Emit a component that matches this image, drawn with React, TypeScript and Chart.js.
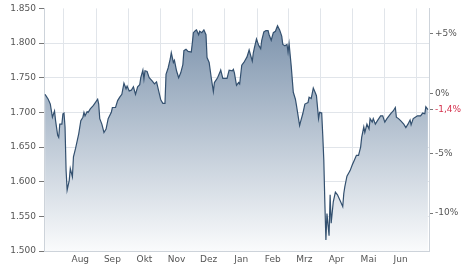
import { useEffect, useRef } from 'react';
import { Chart, registerables } from 'chart.js';

Chart.register(...registerables);

// Day offsets counted from 13 Jul 2019
const dayOffsets = [
  1, 4, 6, 8, 10, 11, 13, 14, 15, 17,
  18, 19, 20, 21, 22, 24, 25, 27, 28, 30,
  33, 35, 37, 38, 39, 41, 42, 44, 47, 51,
  52, 53, 55, 57, 59, 61, 64, 65, 68, 70,
  72, 74, 76, 78, 79, 81, 83, 85, 87, 89,
  91, 92, 94, 95, 96, 98, 100, 103, 105, 107,
  109, 111, 113, 115, 116, 118, 120, 121, 123, 124,
  126, 128, 130, 132, 133, 135, 137, 140, 141, 142,
  144, 145, 147, 148, 150, 152, 154, 155, 157, 159,
  161, 162, 165, 167, 168, 170, 171, 174, 176, 179,
  180, 181, 183, 185, 186, 188, 190, 193, 195, 198,
  199, 200, 202, 204, 206, 207, 209, 211, 213, 214,
  216, 218, 220, 222, 224, 226, 227, 229, 231, 232,
  233, 235, 237, 239, 240, 243, 244, 246, 248, 251,
  252, 254, 256, 258, 259, 261, 262, 264, 265, 266,
  267, 268, 269, 271, 272, 273, 275, 277, 279, 282,
  284, 285, 286, 288, 291, 293, 295, 297, 299, 301,
  302, 304, 305, 307, 309, 310, 312, 313, 315, 317,
  320, 322, 324, 326, 328, 330, 332, 334, 335, 337,
  339, 342, 344, 346, 348, 349, 351, 353, 355, 358,
  360, 362, 363, 365,
];

const prices = [
  1726, 1719, 1712, 1693, 1702, 1688, 1667, 1664, 1683, 1683,
  1698, 1699, 1679, 1616, 1588, 1602, 1619, 1607, 1636, 1648,
  1669, 1688, 1693, 1700, 1695, 1701, 1700, 1705, 1710, 1719,
  1712, 1691, 1683, 1671, 1676, 1691, 1700, 1707, 1707, 1717,
  1722, 1726, 1742, 1734, 1738, 1731, 1732, 1737, 1726, 1737,
  1740, 1750, 1761, 1748, 1760, 1759, 1750, 1745, 1741, 1744,
  1731, 1718, 1713, 1713, 1755, 1764, 1777, 1786, 1772, 1775,
  1760, 1750, 1757, 1769, 1789, 1791, 1788, 1787, 1800, 1815,
  1818, 1819, 1812, 1817, 1815, 1819, 1812, 1779, 1772, 1750,
  1730, 1743, 1750, 1757, 1761, 1749, 1749, 1749, 1761, 1760,
  1762, 1757, 1739, 1743, 1741, 1768, 1772, 1780, 1790, 1774,
  1786, 1793, 1806, 1797, 1792, 1804, 1816, 1818, 1818, 1812,
  1804, 1815, 1817, 1825, 1819, 1810, 1798, 1796, 1798, 1787,
  1799, 1767, 1729, 1719, 1710, 1681, 1687, 1698, 1712, 1714,
  1722, 1720, 1735, 1728, 1724, 1691, 1700, 1699, 1667, 1631,
  1569, 1516, 1554, 1522, 1581, 1540, 1571, 1585, 1581, 1571,
  1564, 1583, 1593, 1608, 1616, 1624, 1631, 1638, 1638, 1650,
  1664, 1679, 1671, 1683, 1676, 1691, 1686, 1691, 1683, 1688,
  1695, 1695, 1686, 1691, 1695, 1699, 1702, 1707, 1693, 1691,
  1688, 1683, 1678, 1683, 1689, 1682, 1691, 1693, 1695, 1695,
  1699, 1698, 1708, 1704,
];

// Month starts (day offsets) for Aug 2019 .. Jul 2020
const monthStarts = [19, 50, 80, 111, 141, 172, 203, 232, 263, 293, 324, 354];
const monthLabels = ['Aug', 'Sep', 'Okt', 'Nov', 'Dez', 'Jan', 'Feb', 'Mrz', 'Apr', 'Mai', 'Jun'];

const priceTicks = [1500, 1550, 1600, 1650, 1700, 1750, 1800, 1850];
const pctTicks = [-10, -5, 0, 5];
const basePrice = 1727.5;

const X_MIN = 0;
const X_MAX = 366;
const Y_MIN = 1500;
const Y_MAX = 1850;

const fmtPrice = (v: number) => String(Math.round(v)).replace(/\B(?=(\d{3})+(?!\d))/g, '.');
const lastPct = (prices[prices.length - 1] / basePrice - 1) * 100;
const fmtPct = (v: number) => {
  if (Math.abs(v) < 1e-9) return '0%';
  const s = Number.isInteger(v) ? String(Math.abs(v)) : Math.abs(v).toFixed(1).replace('.', ',');
  return (v > 0 ? '+' : '-') + s + '%';
};

const labelFont = { family: 'DejaVu Sans', size: 9 };
const gridColor = '#e1e5ea';
const borderColor = '#cdd3da';
const tickMarkColor = '#777';

export default function App() {
  const ref = useRef<HTMLCanvasElement>(null);

  useEffect(() => {
    if (!ref.current) return;
    const monthMids = monthLabels.map((_, i) => (monthStarts[i] + monthStarts[i + 1]) / 2);
    const rightTicks = [...pctTicks, lastPct].sort((a, b) => a - b);

    const chart = new Chart(ref.current, {
      type: 'line',
      data: {
        datasets: [
          {
            data: dayOffsets.map((d, i) => ({ x: d, y: prices[i] })),
            borderColor: '#33506f',
            borderWidth: 1.2,
            pointRadius: 0,
            tension: 0,
            fill: 'start',
            backgroundColor: (ctx: any) => {
              const a = ctx.chart.chartArea;
              if (!a) return 'rgba(140,160,182,0.6)';
              const g = ctx.chart.ctx.createLinearGradient(0, a.top, 0, a.bottom);
              g.addColorStop(0, 'rgb(116,140,167)');
              g.addColorStop(1, 'rgb(250,251,252)');
              return g;
            },
            xAxisID: 'x',
            yAxisID: 'y',
          },
        ],
      },
      options: {
        responsive: false,
        animation: false,
        layout: { padding: { top: 7, left: 0, right: 0, bottom: 0 } },
        plugins: { legend: { display: false }, tooltip: { enabled: false } },
        scales: {
          x: {
            type: 'linear',
            position: 'bottom',
            min: X_MIN,
            max: X_MAX,
            afterBuildTicks: (s: any) => {
              s.ticks = monthStarts.map((v) => ({ value: v }));
            },
            ticks: { display: false },
            grid: { color: gridColor, drawTicks: false },
            border: { color: borderColor },
            afterFit: (s: any) => {
              s.height = 0;
            },
          },
          xl: {
            type: 'linear',
            position: 'bottom',
            min: X_MIN,
            max: X_MAX,
            afterBuildTicks: (s: any) => {
              s.ticks = monthMids.map((v) => ({ value: v }));
            },
            ticks: {
              callback: (_v: any, i: number) => monthLabels[i],
              color: '#555',
              font: labelFont,
              padding: 3,
              autoSkip: false,
              maxRotation: 0,
            },
            grid: { display: false, drawTicks: false },
            border: { display: false },
            afterFit: (s: any) => {
              s.height = 18;
            },
          },
          y: {
            type: 'linear',
            position: 'left',
            min: Y_MIN,
            max: Y_MAX,
            afterBuildTicks: (s: any) => {
              s.ticks = priceTicks.map((v) => ({ value: v }));
            },
            ticks: {
              callback: (v: any) => fmtPrice(Number(v)),
              color: '#555',
              font: labelFont,
              padding: 3,
              autoSkip: false,
            },
            grid: {
              color: (ctx: any) => (ctx.tick && ctx.tick.value === Y_MAX ? 'rgba(0,0,0,0)' : gridColor),
              tickColor: tickMarkColor,
              tickLength: 5,
            },
            border: { color: borderColor },
            afterFit: (s: any) => {
              s.width = 44;
            },
          },
          y2: {
            type: 'linear',
            position: 'right',
            min: (Y_MIN / basePrice - 1) * 100,
            max: (Y_MAX / basePrice - 1) * 100,
            afterBuildTicks: (s: any) => {
              s.ticks = rightTicks.map((v) => ({ value: v }));
            },
            ticks: {
              callback: (v: any) => fmtPct(Number(v)),
              color: (ctx: any) => (ctx.tick && ctx.tick.value === lastPct ? '#d5334f' : '#555'),
              font: labelFont,
              padding: 2,
              autoSkip: false,
            },
            grid: { drawOnChartArea: false, tickColor: tickMarkColor, tickLength: 4 },
            border: { color: borderColor },
            afterFit: (s: any) => {
              s.width = 45;
            },
          },
        },
      },
    } as any);

    return () => chart.destroy();
  }, []);

  return (
    <div style={{ position: 'absolute', left: 0, top: 0, width: 474, height: 269 }}>
      <canvas ref={ref} width={474} height={269} style={{ display: 'block' }} />
    </div>
  );
}
